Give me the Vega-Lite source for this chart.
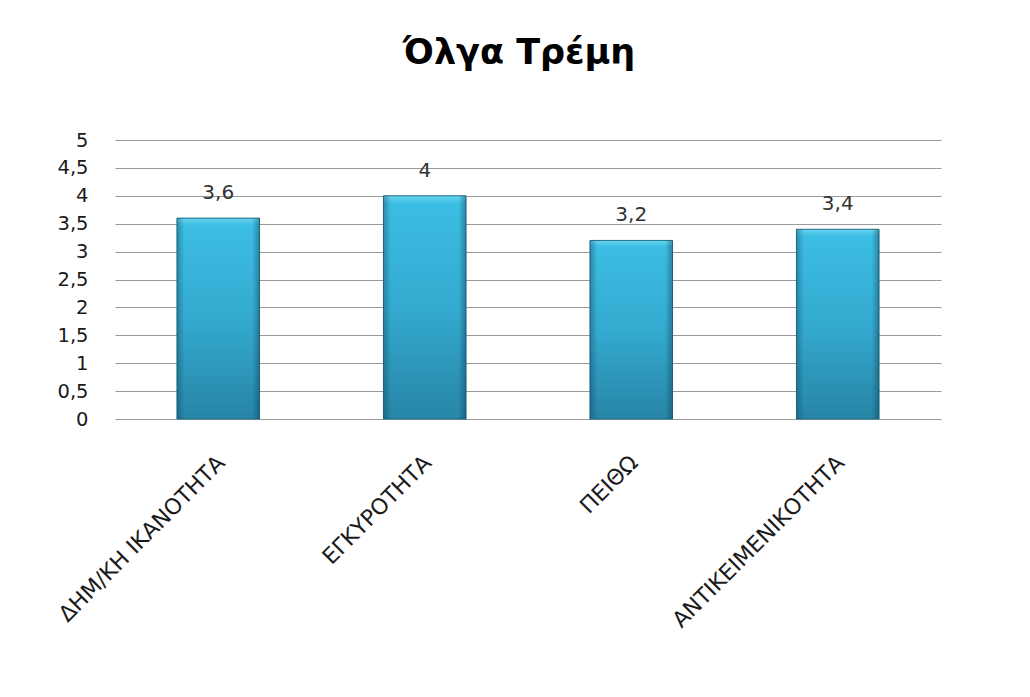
{
  "$schema": "https://vega.github.io/schema/vega-lite/v6.json",
  "width": 826,
  "height": 279,
  "autosize": "none",
  "padding": {"left": 115, "top": 140, "right": 89, "bottom": 278},
  "background": "white",
  "config": {
    "font": "DejaVu Sans",
    "view": {"stroke": null},
    "locale": {"number": {"decimal": ",", "thousands": ".", "grouping": [3], "currency": ["", " €"]}}
  },
  "title": {
    "text": "Όλγα Τρέμη",
    "font": "DejaVu Sans",
    "fontSize": 35,
    "fontWeight": "bold",
    "color": "#000000",
    "anchor": "middle",
    "baseline": "alphabetic",
    "offset": 31,
    "dx": -9
  },
  "data": {
    "values": [
      {"k": "ΔΗΜ/ΚΗ ΙΚΑΝΟΤΗΤΑ", "v": 3.6},
      {"k": "ΕΓΚΥΡΟΤΗΤΑ", "v": 4},
      {"k": "ΠΕΙΘΩ", "v": 3.2},
      {"k": "ΑΝΤΙΚΕΙΜΕΝΙΚΟΤΗΤΑ", "v": 3.4}
    ]
  },
  "encoding": {
    "x": {
      "field": "k",
      "type": "nominal",
      "sort": null,
      "title": null,
      "scale": {"paddingInner": 0.6, "paddingOuter": 0.3},
      "axis": {
        "labelAngle": -45,
        "labelAlign": "right",
        "labelBaseline": "middle",
        "labelFontSize": 22,
        "labelColor": "#1a1a1a",
        "labelPadding": 40,
        "labelOffset": 3,
        "labelLimit": 400,
        "ticks": false,
        "domain": false
      }
    },
    "y": {
      "field": "v",
      "type": "quantitative",
      "title": null,
      "scale": {"domain": [0, 5], "nice": false},
      "axis": {
        "values": [0, 0.5, 1, 1.5, 2, 2.5, 3, 3.5, 4, 4.5, 5],
        "format": ".1~f",
        "labelFontSize": 19.5,
        "labelColor": "#1a1a1a",
        "labelPadding": 27,
        "ticks": false,
        "domain": false,
        "grid": true,
        "gridColor": "#9a9a9a",
        "gridWidth": 1
      }
    }
  },
  "layer": [
    {
      "mark": {
        "type": "bar",
        "color": {
          "gradient": "linear",
          "x1": 0, "y1": 0, "x2": 0, "y2": 1,
          "stops": [
            {"offset": 0, "color": "#6ad6f2"},
            {"offset": 0.035, "color": "#3cbde3"},
            {"offset": 0.5, "color": "#34aad0"},
            {"offset": 1, "color": "#2785a6"}
          ]
        },
        "stroke": "#1f6e88",
        "strokeWidth": 1
      }
    },
    {
      "mark": {
        "type": "bar",
        "color": {
          "gradient": "linear",
          "x1": 0, "y1": 0, "x2": 1, "y2": 0,
          "stops": [
            {"offset": 0, "color": "rgba(10,50,70,0.35)"},
            {"offset": 0.09, "color": "rgba(10,50,70,0)"},
            {"offset": 0.91, "color": "rgba(10,50,70,0)"},
            {"offset": 1, "color": "rgba(10,50,70,0.4)"}
          ]
        }
      }
    },
    {
      "mark": {
        "type": "text",
        "baseline": "bottom",
        "dy": -15,
        "fontSize": 20,
        "color": "#333333"
      },
      "encoding": {
        "text": {"field": "v", "type": "quantitative", "format": ".1~f"}
      }
    }
  ]
}
